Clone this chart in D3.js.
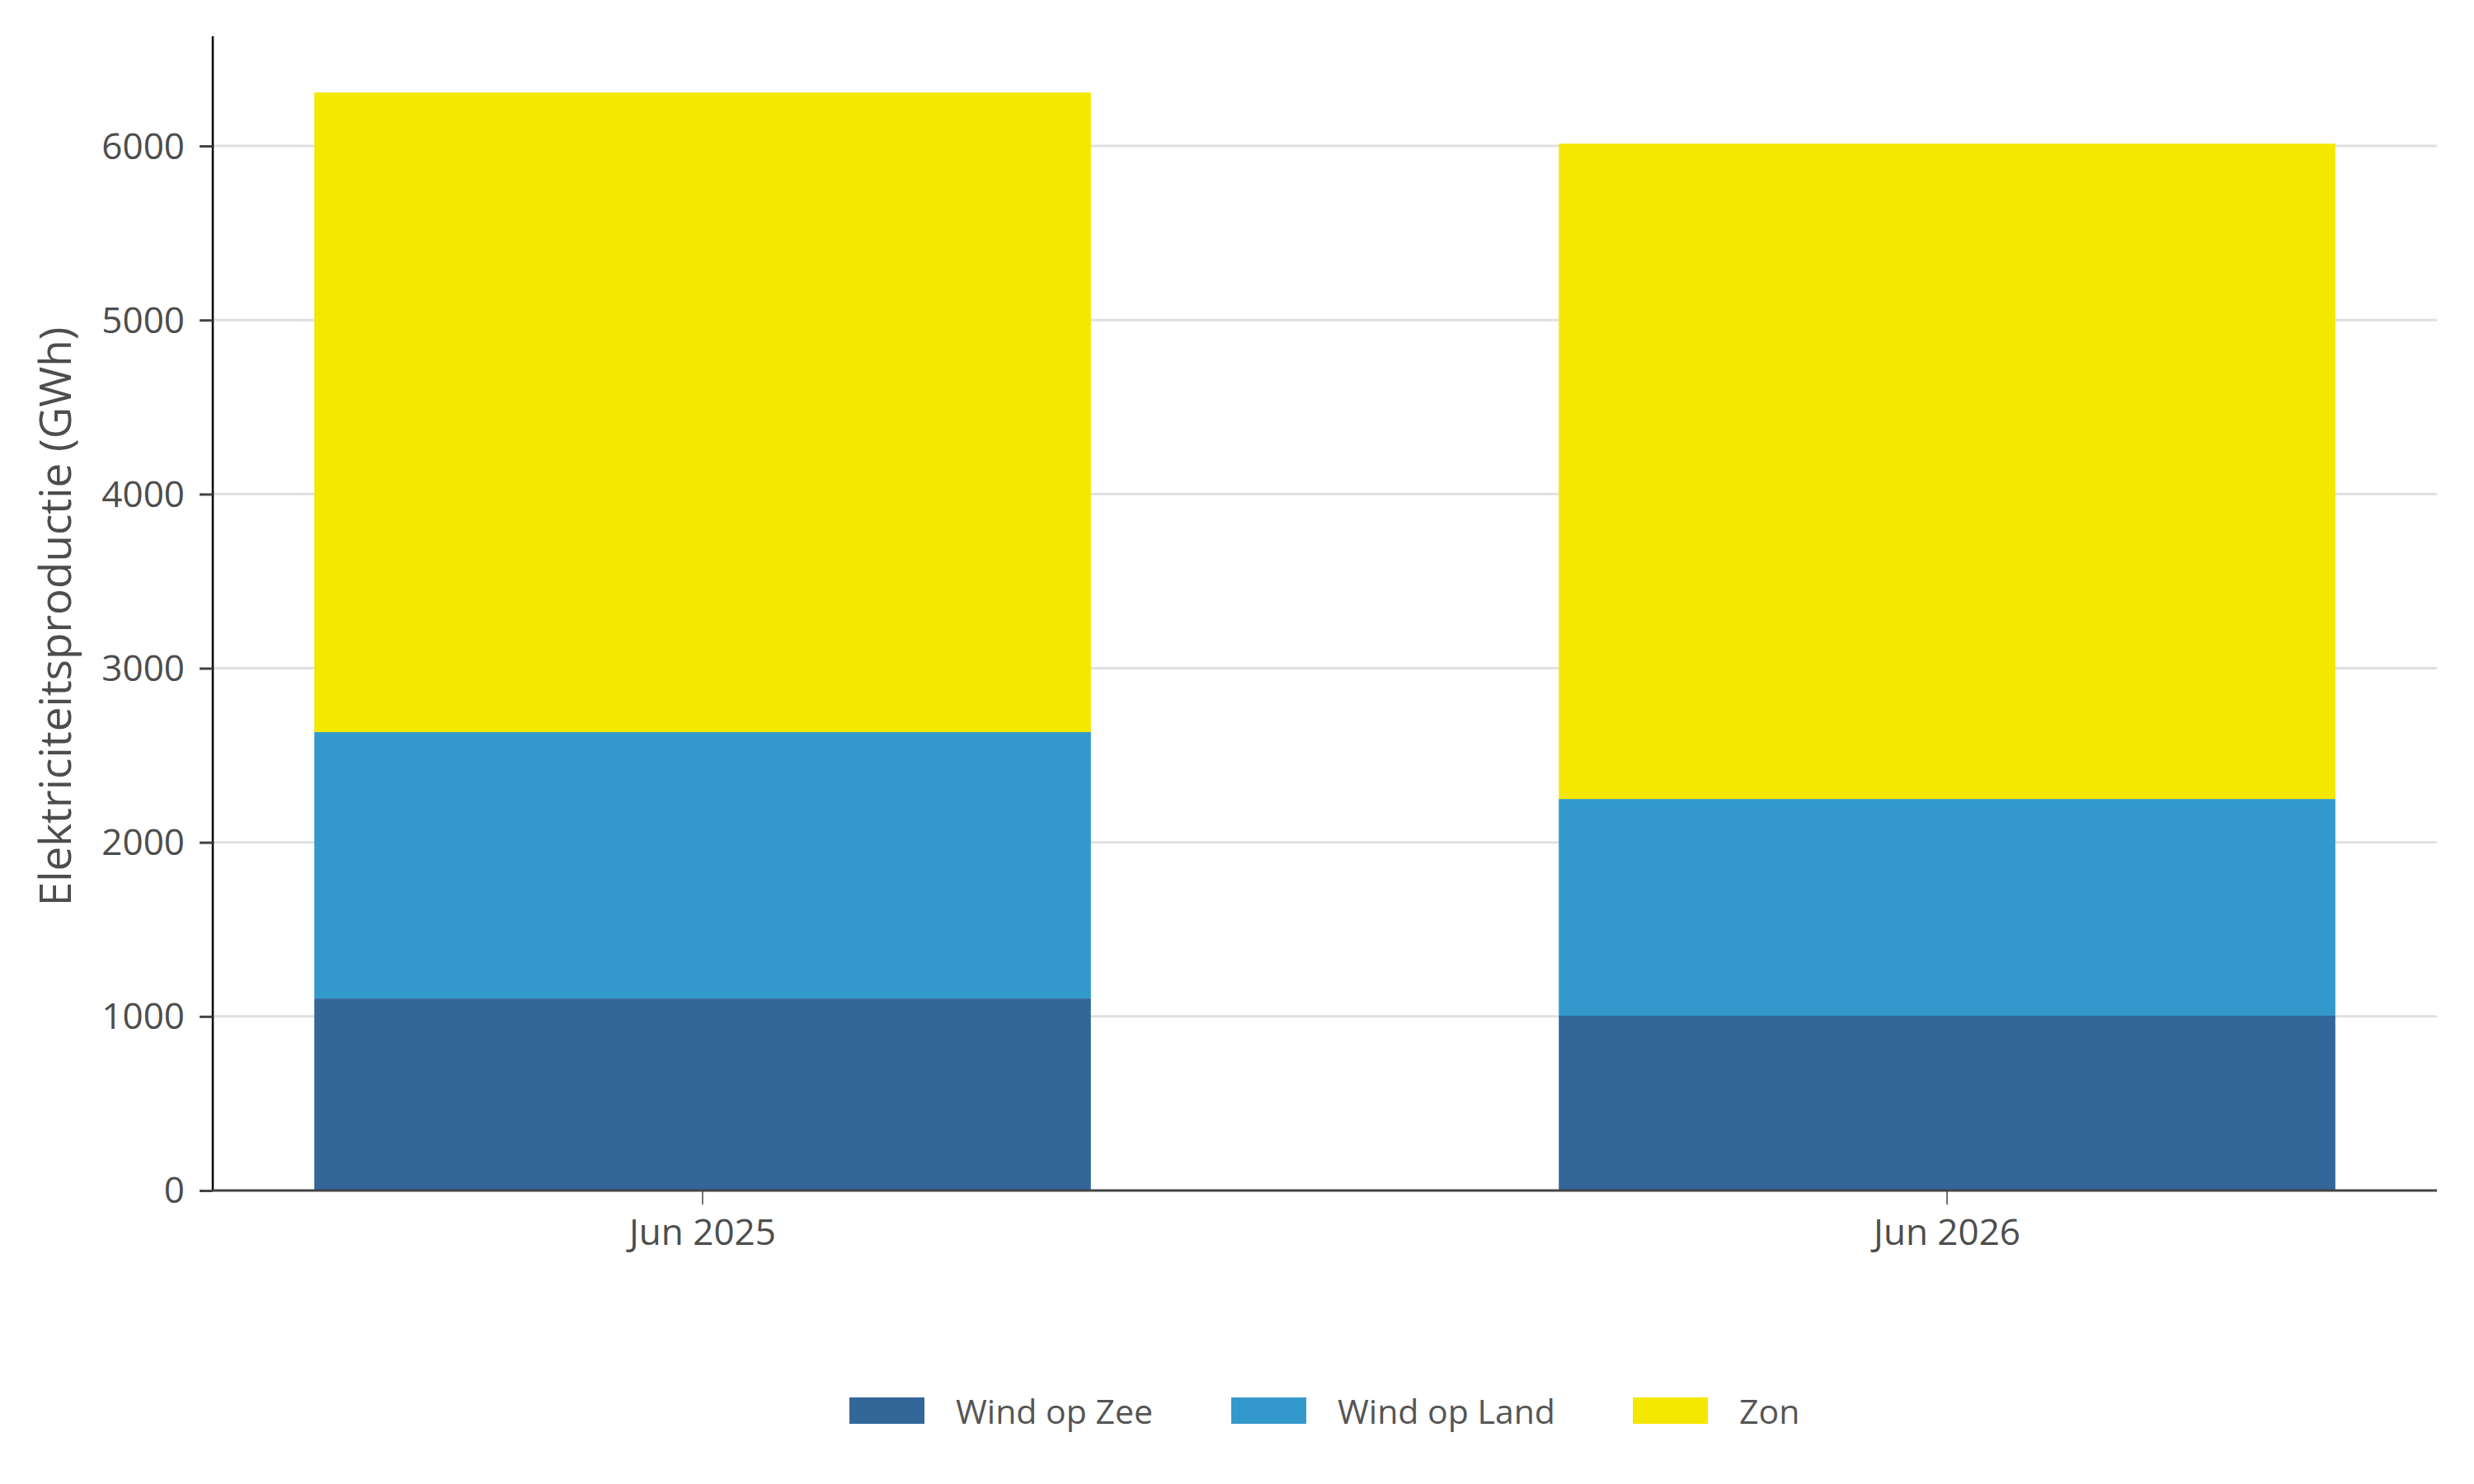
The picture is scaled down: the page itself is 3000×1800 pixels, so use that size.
<!DOCTYPE html>
<html>
<head>
<meta charset="utf-8">
<script src="https://cdn.jsdelivr.net/npm/d3@7"></script>
<style>
  html, body { margin: 0; padding: 0; background: #fff; }
  svg { display: block; }
  text { font-family: "Open Sans", "Noto Sans", sans-serif; }
</style>
</head>
<body>
<svg id="chart" width="3000" height="1800"></svg>
<script>
// ---- data ----
const categories = ["Jun 2025", "Jun 2026"];
const seriesNames = ["Wind op Zee", "Wind op Land", "Zon"];
const windOpZee = [1103, 1004];
const windOpLand = [1530, 1245];
const zon = [3674, 3764];
const yTicks = [0, 1000, 2000, 3000, 4000, 5000, 6000];
const colors = ["#336699", "#3399cc", "#f5e800"];

// ---- layout ----
(function () {
const svg = d3.select("#chart");
const mLeft = 258, mRight = 2955, mTop = 44, mBottom = 1444;

const rows = categories.map((c, i) => ({
  cat: c,
  "Wind op Zee": windOpZee[i],
  "Wind op Land": windOpLand[i],
  "Zon": zon[i]
}));
const stacked = d3.stack().keys(seriesNames)(rows);

const x = d3.scaleBand().domain(categories).range([mLeft, mRight])
  .paddingInner(0.376).paddingOuter(0.0816);
const y = d3.scaleLinear().domain([0, 6630]).range([mBottom, mTop]);
const color = d3.scaleOrdinal().domain(seriesNames).range(colors);

// gridlines
svg.append("g").selectAll("line").data(yTicks.filter(d => d > 0)).join("line")
  .attr("x1", mLeft).attr("x2", mRight)
  .attr("y1", d => y(d)).attr("y2", d => y(d))
  .attr("stroke", "#e0e0e0").attr("stroke-width", 3);

// bars
svg.append("g").selectAll("g").data(stacked).join("g")
  .attr("fill", d => color(d.key))
  .selectAll("rect").data(d => d).join("rect")
  .attr("x", d => x(d.data.cat))
  .attr("width", x.bandwidth())
  .attr("y", d => y(d[1]))
  .attr("height", d => y(d[0]) - y(d[1]));

// y axis
const yAxis = svg.append("g").attr("transform", `translate(${mLeft},0)`)
  .call(d3.axisLeft(y).tickValues(yTicks).tickSize(16).tickPadding(18).tickFormat(d3.format("d")));
yAxis.select(".domain").attr("stroke", "#000").attr("stroke-width", 2.5)
  .attr("d", `M0,${mTop}V${mBottom}`);
yAxis.selectAll(".tick line").attr("stroke", "#444").attr("stroke-width", 3);
yAxis.selectAll(".tick text").attr("fill", "#4d4d4d").attr("font-size", 44)
  .attr("font-family", '"Open Sans", sans-serif').attr("dy", "0.34em");

// x axis
const xAxis = svg.append("g").attr("transform", `translate(0,${mBottom})`)
  .call(d3.axisBottom(x).tickSize(17).tickPadding(18));
xAxis.select(".domain").attr("stroke", "#444").attr("stroke-width", 3)
  .attr("d", `M${mLeft},0H${mRight}`);
xAxis.selectAll(".tick line").attr("stroke", "#444").attr("stroke-width", 1.5);
xAxis.selectAll(".tick text").attr("fill", "#4d4d4d").attr("font-size", 44)
  .attr("font-family", '"Open Sans", sans-serif');

// y axis title
svg.append("text")
  .attr("transform", `translate(86,748) rotate(-90)`)
  .attr("text-anchor", "middle")
  .attr("fill", "#4d4d4d")
  .attr("font-size", 53)
  .text("Elektriciteitsproductie (GWh)");

// legend
const legendX = [1030, 1493, 1980];
const legend = svg.append("g").selectAll("g").data(seriesNames).join("g")
  .attr("transform", (d, i) => `translate(${legendX[i]},1695)`);
legend.append("rect").attr("width", 91).attr("height", 32).attr("fill", d => color(d));
legend.append("text").attr("x", 129).attr("y", 32)
  .attr("fill", "#555").attr("font-size", 41).text(d => d);
})();
</script>
</body>
</html>
